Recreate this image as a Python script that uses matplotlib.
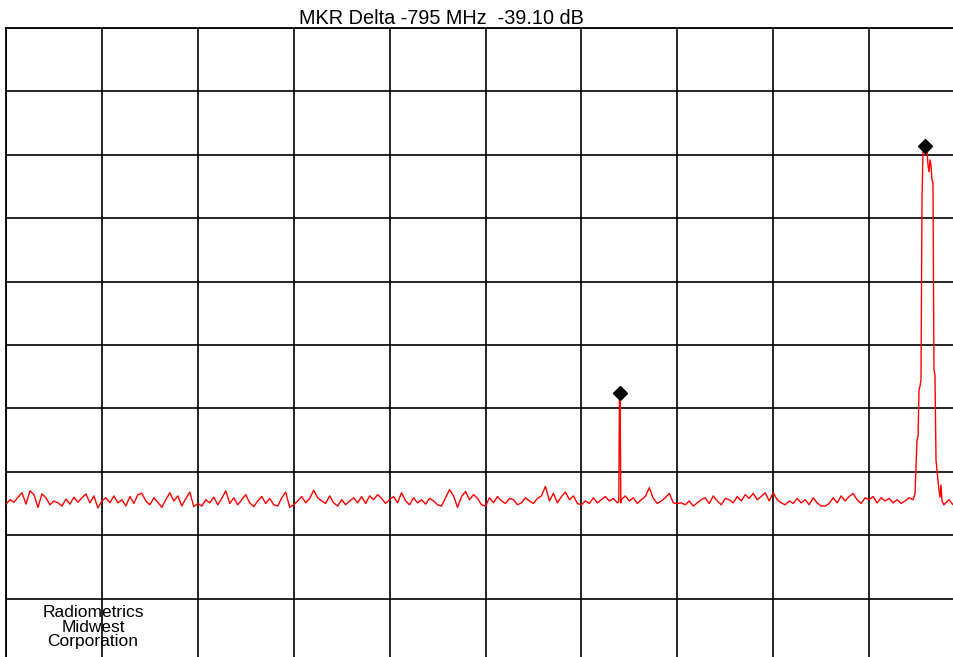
import numpy as np
import matplotlib
matplotlib.use("Agg")
import matplotlib.pyplot as plt

# ---- data (frequency in MHz relative to span start, level in dB) ----
span_mhz = 2500
noise_db = [
    -75.1,-74.4,-74.8,-74.0,-73.3,-75.1,-73.0,-73.6,-75.6,-73.5,-74.1,-75.2,-74.6,-74.9,-75.4,-74.3,-75.1,-74.0,-74.8,-74.1,-73.5,-74.9,-73.8,-75.7,
    -74.6,-74.1,-74.9,-73.8,-74.9,-74.4,-75.4,-73.9,-75.0,-73.6,-73.4,-74.6,-75.2,-74.1,-74.8,-75.6,-74.4,-73.3,-74.6,-73.8,-75.4,-74.2,-73.2,-75.5,
    -75.0,-75.4,-74.4,-74.9,-74.0,-75.2,-74.2,-73.0,-75.0,-74.1,-75.2,-74.4,-73.6,-74.9,-75.5,-74.6,-73.9,-75.0,-74.2,-75.2,-75.4,-74.1,-73.2,-75.6,
    -75.2,-74.6,-73.9,-74.9,-74.2,-72.9,-74.1,-74.6,-75.0,-73.8,-74.9,-75.4,-74.4,-75.2,-74.6,-74.1,-74.9,-73.9,-75.0,-73.8,-74.4,-73.6,-74.2,-75.0,
    -74.4,-73.9,-74.9,-73.3,-74.6,-75.2,-74.1,-74.9,-74.4,-75.1,-74.2,-74.6,-75.2,-75.4,-74.1,-72.8,-73.8,-75.6,-73.9,-73.1,-74.4,-73.6,-74.2,-75.2,
    -75.4,-74.1,-74.9,-73.9,-74.6,-75.0,-74.2,-74.4,-75.2,-74.9,-74.1,-74.6,-75.0,-74.2,-73.8,-72.3,-74.6,-73.4,-74.9,-73.9,-73.2,-74.4,-73.8,-75.0,
    -75.2,-74.6,-75.0,-74.1,-74.9,-74.4,-73.9,-74.6,-74.2,-74.9,-74.4,-73.8,-74.6,-74.1,-75.0,-74.4,-73.9,-72.5,-74.2,-75.0,-74.6,-74.1,-73.4,-74.9,
    -75.0,-74.9,-75.2,-74.6,-75.4,-74.9,-74.4,-74.1,-75.0,-73.8,-74.6,-75.2,-74.2,-74.4,-74.9,-73.9,-74.6,-73.6,-74.2,-73.4,-74.4,-73.9,-73.3,-74.6,
    -73.3,-74.4,-74.9,-75.2,-74.6,-75.0,-74.2,-74.9,-74.4,-75.2,-74.1,-74.9,-75.4,-75.4,-75.0,-74.1,-74.9,-73.8,-74.6,-73.9,-73.4,-74.4,-75.0,-74.1,
    -74.4,-73.9,-74.9,-74.1,-74.6,-74.2,-74.9,-74.4,-75.0,-74.6,-74.1,-74.5,-74.4,-74.6,-74.5,-74.7,-74.4,-74.6,-73.9,-75.0,-74.4,-75.2,-74.2,-74.9,
]
spur_freq = [1597.5, 1599.2, 1601.0, 1602.8]
spur_db = [-74.7, -58.4, -58.4, -74.9]
peak_freq = [2364.5, 2369.6, 2374.9, 2377.5, 2380.1, 2382.7, 2385.3, 2387.9, 2390.5, 2393.1,
             2395.7, 2398.3, 2400.9, 2403.5, 2406.1, 2408.7, 2411.3, 2413.9, 2416.5, 2419.1,
             2421.7, 2424.4, 2427.0, 2429.6, 2432.2, 2434.8, 2437.4, 2440.0, 2445.0]
peak_db = [-74.4, -73.5, -65.0, -64.5, -57.1, -56.5, -55.5, -27.1, -19.2, -18.9,
           -19.1, -19.6, -19.2, -21.6, -22.7, -20.8, -21.6, -24.0, -24.3, -53.9,
           -54.7, -68.1, -69.7, -71.3, -72.9, -74.0, -72.1, -74.6, -75.2]
marker_freq = [2395, 1600]
marker_db = [-18.6, -57.6]
title_text = "MKR Delta -795 MHz  -39.10 dB"
logo_lines = ["Radiometrics", "Midwest", "Corporation"]

# ---- build trace ----
noise_freq = np.arange(len(noise_db)) * span_mhz / len(noise_db)
noise_arr = np.asarray(noise_db)
keep = ~(((noise_freq > spur_freq[0]) & (noise_freq < spur_freq[-1])) |
         ((noise_freq > peak_freq[0]) & (noise_freq < peak_freq[-1])))
f_all = np.concatenate([noise_freq[keep], spur_freq, peak_freq])
d_all = np.concatenate([noise_arr[keep], spur_db, peak_db])
order = np.argsort(f_all)
f_all, d_all = f_all[order], d_all[order]

W, H = 954, 657
fig = plt.figure(figsize=(W / 100, H / 100), dpi=100)
fig.patch.set_facecolor("white")
ax = fig.add_axes([6 / W, (H - 662) / H, 959 / W, 634 / H])
ax.set_xlim(0, span_mhz)
ax.set_ylim(-100, 0)
ax.set_xticks(np.linspace(0, span_mhz, 11))
ax.set_yticks(np.linspace(-100, 0, 11))
ax.tick_params(length=0, labelbottom=False, labelleft=False)
ax.grid(True, color="black", linewidth=1.2)
for s in ax.spines.values():
    s.set_color("black")
    s.set_linewidth(1.3)
ax.set_axisbelow(True)

ax.plot(f_all, d_all, color="#ff0000", linewidth=1.0, zorder=3)
ax.plot(marker_freq, marker_db, linestyle="none", marker="D", markersize=7.5,
        color="black", zorder=4)

fig.text(441.5 / W, 1 - 24 / H, title_text, ha="center", va="baseline",
         fontsize=14.3, family="Liberation Sans")
for i, line in enumerate(logo_lines):
    fig.text(93 / W, 1 - (617 + 14.5 * i) / H, line, ha="center", va="baseline",
             fontsize=12.5, family="Liberation Sans", zorder=5)

fig.savefig("out.png", dpi=100)
